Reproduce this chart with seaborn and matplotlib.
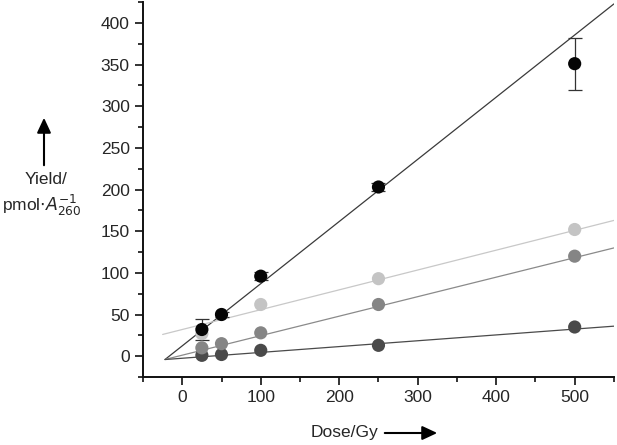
import matplotlib
matplotlib.use("Agg")
import matplotlib.pyplot as plt
from matplotlib.ticker import MultipleLocator
from matplotlib.patches import FancyArrowPatch
import numpy as np
import pandas as pd
import seaborn as sns

# ---- data ----
dose = [25, 50, 100, 250, 500]
series_names = ["A", "B", "C", "D"]
yield_A = [32, 50, 96, 203, 351]     # black
yield_B = [27, 50, 62, 93, 152]      # light gray
yield_C = [10, 15, 28, 62, 120]      # mid gray
yield_D = [1, 2, 7, 13, 35]          # dark gray
err_A = [13, 3, 5, 5, 31]
fit_slope = [0.746, 0.238, 0.234, 0.070]
fit_intercept = [12.4, 32.0, 1.2, -2.5]
fit_start = [-22, -25, -22, -22]
fit_end = 550

marker_colors = ["#050505", "#c4c4c4", "#858585", "#4a4a4a"]
line_colors = ["#3a3a3a", "#c8c8c8", "#8a8a8a", "#4a4a4a"]

sns.set_theme(style="ticks")
plt.rcParams["font.family"] = ["Liberation Sans", "DejaVu Sans"]

fig = plt.figure(figsize=(6.17, 4.45), dpi=100)
ax = fig.add_axes([0.2318, 0.1528, 0.7632, 0.8427])

ys = [yield_A, yield_B, yield_C, yield_D]
for i, name in enumerate(series_names):
    xs = np.array([fit_start[i], fit_end])
    line_df = pd.DataFrame({"x": xs, "y": fit_slope[i] * xs + fit_intercept[i]})
    sns.lineplot(data=line_df, x="x", y="y", ax=ax, color=line_colors[i], lw=0.9, zorder=2)

ax.errorbar(dose, yield_A, yerr=err_A, fmt="none", ecolor="#333333", elinewidth=0.9,
            capsize=5, capthick=0.9, zorder=3)

for i in reversed(range(4)):
    df = pd.DataFrame({"x": dose, "y": ys[i]})
    sns.scatterplot(data=df, x="x", y="y", ax=ax, color=marker_colors[i], s=90,
                    edgecolor="none", zorder=4)

ax.set_xlim(-50, 550)
ax.set_ylim(-25, 425)
ax.xaxis.set_major_locator(MultipleLocator(100))
ax.xaxis.set_minor_locator(MultipleLocator(50))
ax.yaxis.set_major_locator(MultipleLocator(50))
ax.yaxis.set_minor_locator(MultipleLocator(25))
ax.set_xticks([0, 100, 200, 300, 400, 500])
ax.tick_params(which="major", length=6, width=1.2, labelsize=12.5, color="#111111")
ax.tick_params(which="minor", length=3.5, width=1.2, color="#111111")
for s in ["left", "bottom"]:
    ax.spines[s].set_linewidth(1.4)
    ax.spines[s].set_color("#111111")
sns.despine(ax=ax)
ax.set_xlabel("")
ax.set_ylabel("")

def fx(px):
    return px / 617

def fy(py):
    return 1 - py / 445

# axis titles with arrows
fig.text(fx(311), fy(433), "Dose/Gy", fontsize=12.5, ha="left", va="center")
fig.add_artist(FancyArrowPatch((fx(382), fy(433)), (fx(440), fy(433)),
               transform=fig.transFigure, arrowstyle="-|>,head_length=0.9,head_width=0.42",
               mutation_scale=10, color="black", lw=1.5))
fig.text(fx(46), fy(179), "Yield/", fontsize=12.5, ha="center", va="center")
fig.text(fx(42), fy(205), r"pmol$\cdot$$\mathit{A}_{260}^{-1}$", fontsize=12.5,
         ha="center", va="center")
fig.add_artist(FancyArrowPatch((fx(44), fy(168)), (fx(44), fy(115)),
               transform=fig.transFigure, arrowstyle="-|>,head_length=0.9,head_width=0.42",
               mutation_scale=10, color="black", lw=1.5))

fig.savefig("out.png", dpi=100)
